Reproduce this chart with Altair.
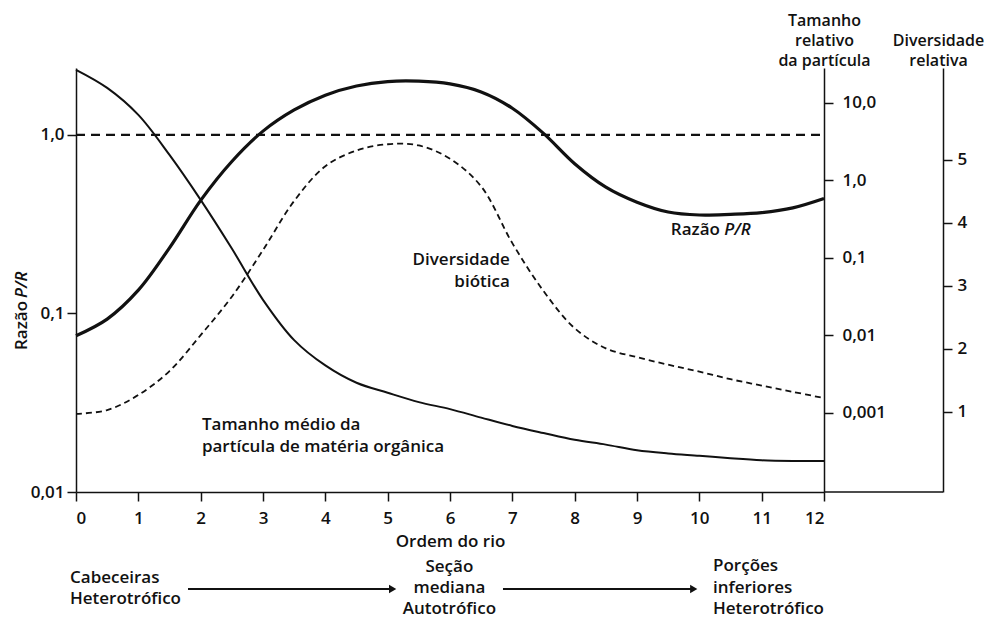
import altair as alt
import pandas as pd

# ---------------- data ----------------
orders = [0, 0.5, 1, 1.5, 2, 2.5, 3, 3.5, 4, 4.5, 5, 5.5, 6, 6.5, 7, 7.5,
          8, 8.5, 9, 9.5, 10, 10.5, 11, 11.5, 12]

pr_ratio = [0.075, 0.093, 0.135, 0.233, 0.43, 0.71, 1.05, 1.38, 1.67, 1.88,
            1.99, 2.0, 1.93, 1.74, 1.41, 1.02, 0.69, 0.51, 0.42, 0.37,
            0.356, 0.359, 0.367, 0.39, 0.44]

particle_size = [26.7, 15.6, 7.0, 2.13, 0.56, 0.132, 0.0288, 0.0087, 0.0041,
                 0.00245, 0.00182, 0.00138, 0.00112, 0.00087, 0.00068,
                 0.00055, 0.00045, 0.00039, 0.00033, 0.0003, 0.00028,
                 0.00026, 0.000245, 0.00024, 0.00024]

diversity = [0.97, 1.03, 1.27, 1.65, 2.22, 2.83, 3.57, 4.35, 4.9, 5.15, 5.25,
             5.23, 5.02, 4.58, 3.68, 2.92, 2.33, 2.01, 1.87, 1.75, 1.64,
             1.52, 1.42, 1.32, 1.22]

ref_orders = [0, 12]
ref_level = [1.0, 1.0]

x_ticks = list(range(13))
pr_ticks = [0.01, 0.1, 1]
size_ticks = [0.001, 0.01, 0.1, 1, 10]
div_ticks = [1, 2, 3, 4, 5]

df = pd.DataFrame({"order": orders, "pr": pr_ratio,
                   "size": particle_size, "div": diversity})
ref = pd.DataFrame({"order": ref_orders, "pr": ref_level})

FONT = "Open Sans"
FS = 17
FW = 600
INK = "#111111"
CURVE = "catmull-rom"

x_enc = alt.X("order:Q",
              scale=alt.Scale(domain=[0, 12], nice=False, zero=False, padding=0),
              axis=alt.Axis(values=x_ticks, format="d", title="Ordem do rio",
                            tickSize=9, labelPadding=9, titlePadding=7))

pr_scale = alt.Scale(type="log", domain=[0.01, 2.37], nice=False, padding=0)


def label(text, x, y, align="left", style="normal", angle=0, size=FS):
    return alt.Chart(pd.DataFrame({"t": [text]})).mark_text(
        align=align, baseline="middle", font=FONT, fontSize=size,
        fontWeight=FW, fontStyle=style, color=INK, angle=angle
    ).encode(x=x, y=y, text="t:N")


# ---------------- P/R layer (left axis) ----------------
pr_line = alt.Chart(df).mark_line(
    color=INK, strokeWidth=3.2, interpolate=CURVE
).encode(
    x=x_enc,
    y=alt.Y("pr:Q", scale=pr_scale,
            axis=alt.Axis(values=pr_ticks, title=None, tickSize=9,
                          labelPadding=3,
                          labelExpr="datum.value >= 1 ? '1,0' : replace(format(datum.value, ''), '.', ',')"))
)

ref_line = alt.Chart(ref).mark_line(
    color=INK, strokeWidth=2.4, strokeDash=[9, 6]
).encode(x="order:Q", y=alt.Y("pr:Q", scale=pr_scale))

BS = 17
annotations = [
    label("Razão", alt.datum(10.33), alt.datum(0.294), align="right"),
    label("P/R", alt.datum(10.40), alt.datum(0.294), style="italic"),
    label("Diversidade", alt.datum(6.96), alt.datum(0.1994), align="right"),
    label("biótica", alt.datum(6.96), alt.datum(0.150), align="right"),
    label("Tamanho médio da", alt.datum(2.02), alt.datum(0.0237)),
    label("partícula de matéria orgânica", alt.datum(2.02), alt.datum(0.01786)),
    # rotated left-axis title
    label("Razão", alt.value(-54), alt.value(282), angle=270),
    label("P/R", alt.value(-54), alt.value(230), style="italic", angle=270),
    # bottom schema
    label("Cabeceiras", alt.datum(-0.096), alt.value(510), size=BS),
    label("Heterotrófico", alt.datum(-0.096), alt.value(531), size=BS),
    label("Seção", alt.datum(5.99), alt.value(499), align="center", size=BS),
    label("mediana", alt.datum(5.99), alt.value(520), align="center", size=BS),
    label("Autotrófico", alt.datum(5.99), alt.value(541), align="center", size=BS),
    label("Porções", alt.datum(10.22), alt.value(498), size=BS),
    label("inferiores", alt.datum(10.22), alt.value(520), size=BS),
    label("Heterotrófico", alt.datum(10.22), alt.value(541), size=BS),
]

one = pd.DataFrame({"k": [0]})
arrow1 = alt.Chart(one).mark_rule(color=INK, strokeWidth=2).encode(
    x=alt.datum(1.797), x2=alt.datum(5.08), y=alt.value(521))
head1 = alt.Chart(one).mark_point(shape="triangle-right", filled=True,
                                  color=INK, size=70, opacity=1).encode(
    x=alt.datum(5.08), y=alt.value(521))
arrow2 = alt.Chart(one).mark_rule(color=INK, strokeWidth=2).encode(
    x=alt.datum(6.85), x2=alt.datum(9.91), y=alt.value(521))
head2 = alt.Chart(one).mark_point(shape="triangle-right", filled=True,
                                  color=INK, size=70, opacity=1).encode(
    x=alt.datum(9.91), y=alt.value(521))
# bottom frame line joining the two right-hand axes
frame = alt.Chart(one).mark_rule(color=INK, strokeWidth=1.5).encode(
    x=alt.value(748), x2=alt.value(867), y=alt.value(424))

pr_layer = alt.layer(pr_line, ref_line, *annotations,
                     arrow1, head1, arrow2, head2, frame)

TFS = 16

# ---------------- particle size layer (right axis 1) ----------------
size_layer = alt.Chart(df).mark_line(
    color=INK, strokeWidth=2.0, interpolate=CURVE
).encode(
    x="order:Q",
    y=alt.Y("size:Q",
            scale=alt.Scale(type="log", domain=[10 ** -4.02, 10 ** 1.45],
                            nice=False, padding=0),
            axis=alt.Axis(orient="right", values=size_ticks, tickSize=9,
                          labelPadding=9,
                          labelExpr="datum.value >= 1 ? replace(format(datum.value, '.1f'), '.', ',') : replace(format(datum.value, ''), '.', ',')",
                          title=["Tamanho", "relativo", "da partícula"],
                          titleFontSize=TFS,
                          titleAngle=0, titleX=0, titleY=-48,
                          titleAlign="center", titleBaseline="middle",
                          titleLineHeight=20))
)

# ---------------- diversity layer (right axis 2) ----------------
div_layer = alt.Chart(df).mark_line(
    color=INK, strokeWidth=1.8, strokeDash=[6, 4], interpolate=CURVE
).encode(
    x="order:Q",
    y=alt.Y("div:Q",
            scale=alt.Scale(domain=[-0.27, 6.46], nice=False, zero=False,
                            padding=0),
            axis=alt.Axis(orient="right", offset=119, values=div_ticks,
                          format="d", tickSize=9, labelPadding=5,
                          title=["Diversidade", "relativa"],
                          titleFontSize=TFS,
                          titleAngle=0, titleX=-5, titleY=-28,
                          titleAlign="center", titleBaseline="middle",
                          titleLineHeight=20))
)

chart = alt.layer(pr_layer, size_layer, div_layer).resolve_scale(
    y="independent"
).properties(
    width=748, height=424,
    autosize=alt.AutoSizeParams(type="none"),
    padding={"left": 68, "top": 60, "right": 161, "bottom": 126},
    background="white",
).configure_view(stroke=None).configure_axis(
    grid=False,
    domainColor=INK, domainWidth=1.5,
    tickColor=INK, tickWidth=1.5,
    labelFont=FONT, labelFontSize=FS, labelFontWeight=FW, labelColor=INK,
    titleFont=FONT, titleFontSize=FS, titleFontWeight=FW, titleColor=INK,
)

chart.save("out.html", embed_options={"renderer": "svg", "actions": False})
